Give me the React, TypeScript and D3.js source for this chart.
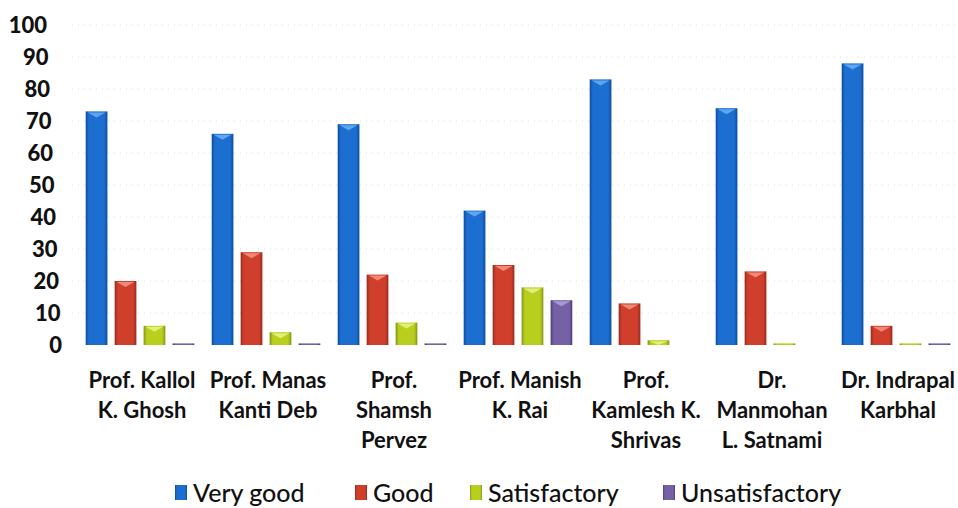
import React from "react";
import * as d3 from "d3";

const categories: string[][] = [
  ["Prof. Kallol", "K. Ghosh"],
  ["Prof. Manas", "Kanti Deb"],
  ["Prof.", "Shamsh", "Pervez"],
  ["Prof. Manish", "K. Rai"],
  ["Prof.", "Kamlesh K.", "Shrivas"],
  ["Dr.", "Manmohan", "L. Satnami"],
  ["Dr. Indrapal", "Karbhal"],
];
const seriesNames = ["Very good", "Good", "Satisfactory", "Unsatisfactory"];
const veryGood = [73, 66, 69, 42, 83, 74, 88];
const good = [20, 29, 22, 25, 13, 23, 6];
const satisfactory = [6, 4, 7, 18, 1.5, 0.5, 0.5];
const unsatisfactory = [0.5, 0.5, 0.5, 14, 0, 0, 0.5];
const yTicks = [0, 10, 20, 30, 40, 50, 60, 70, 80, 90, 100];

const seriesValues = [veryGood, good, satisfactory, unsatisfactory];
const colors = ["#1c6ed0", "#cf3f2c", "#b9cf1e", "#7461a6"];
const darks = ["#0d4c9e", "#9a2a1c", "#82951a", "#4e3f7c"];
const lights = ["#5fa6ee", "#ee8877", "#e2ef7a", "#a797d2"];

const W = 958;
const H = 508;
const FONT = "Lato, 'Open Sans', sans-serif";

export default function App() {
  const catIdx = categories.map((_, i) => String(i));
  const x0 = d3.scaleBand<string>().domain(catIdx).range([77, 77 + 126 * 7]).padding(0);
  const x1 = d3
    .scaleBand<string>()
    .domain(seriesNames)
    .range([0, x0.bandwidth()])
    .paddingInner(0.25)
    .paddingOuter(0.3);
  const y = d3.scaleLinear().domain([0, 100]).range([345, 25]);
  // tick label right edge drifts slightly (as in the photographed original)
  const tickX = d3.scaleLinear().domain([0, 100]).range([62, 47]);

  return (
    <svg
      width={W}
      height={H}
      style={{ position: "absolute", left: 0, top: 0, background: "#fff" }}
      fontFamily={FONT}
    >
      <defs>
        {colors.map((c, i) => (
          <linearGradient key={i} id={`g${i}`} x1="0" x2="1" y1="0" y2="0">
            <stop offset="0" stopColor={darks[i]} />
            <stop offset="0.15" stopColor={c} />
            <stop offset="0.85" stopColor={c} />
            <stop offset="1" stopColor={darks[i]} />
          </linearGradient>
        ))}
      </defs>
      {yTicks.map((t) => (
        <g key={t}>
          {t > 0 && (
            <line
              x1={72}
              x2={955}
              y1={y(t)}
              y2={y(t)}
              stroke="#dcdcdc"
              strokeDasharray="1,5"
              strokeWidth={1}
            />
          )}
          <text
            x={tickX(t)}
            y={y(t)}
            dy="0.35em"
            textAnchor="end"
            fontSize={22}
            fontWeight="900"
            fill="#111"
          >
            {t}
          </text>
        </g>
      ))}
      {categories.map((cat, ci) => (
        <g key={ci} transform={`translate(${x0(String(ci))},0)`}>
          {seriesNames.map((s, si) => {
            const v = seriesValues[si][ci];
            if (v <= 0) return null;
            const bx = x1(s)!;
            const bw = x1.bandwidth();
            const top = y(v);
            const h = y(0) - top;
            const tri = Math.min(6, h);
            return (
              <g key={s}>
                <rect x={bx} y={top} width={bw} height={h} fill={`url(#g${si})`} />
                {h > 4 && (
                  <path
                    d={`M${bx + 2},${top + 1}L${bx + bw - 2},${top + 1}L${bx + bw / 2},${top + tri}Z`}
                    fill={lights[si]}
                  />
                )}
              </g>
            );
          })}
          {cat.map((line, li) => (
            <text
              key={li}
              x={x0.bandwidth() / 2 + 2}
              y={380 + li * 30}
              dy="0.35em"
              textAnchor="middle"
              fontSize={22}
              fontWeight="bold"
              fill="#111"
            >
              {line}
            </text>
          ))}
        </g>
      ))}
      {seriesNames.map((s, si) => {
        const lx = [175, 355, 470, 663][si];
        return (
          <g key={s}>
            <rect x={lx} y={485} width={12} height={15} fill={`url(#g${si})`} />
            <text x={lx + 18} y={493} dy="0.35em" fontSize={25} fontWeight="500" fill="#111">
              {s}
            </text>
          </g>
        );
      })}
    </svg>
  );
}
